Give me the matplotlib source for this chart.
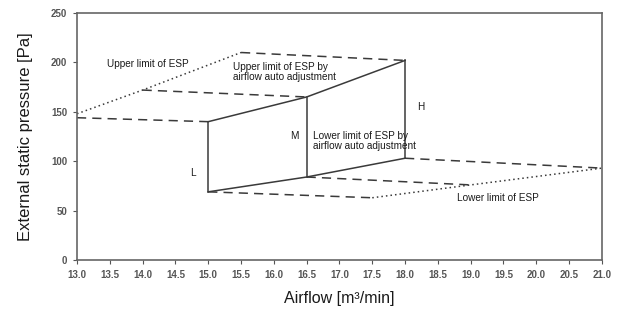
import matplotlib
matplotlib.use('Agg')
import matplotlib.pyplot as plt
import numpy as np

plt.rcParams['font.family'] = ['Liberation Sans', 'DejaVu Sans']

# operating envelope (solid): L, M, H fan steps
step_x = [15.0, 16.5, 18.0]
step_top = [140, 165, 202]
step_bottom = [69, 84, 103]

# dashed extensions of upper limit by airflow auto adjustment
upper_dash_x = [[13.0, 15.0], [14.0, 16.5], [15.5, 18.0]]
upper_dash_y = [[144, 140], [172, 165], [210, 202]]
# dotted upper limit of ESP
upper_dot_x = [13.0, 14.0, 15.5]
upper_dot_y = [148, 172, 210]

# dashed extensions of lower limit
lower_dash_x = [[15.0, 17.5], [16.5, 19.0], [18.0, 21.0]]
lower_dash_y = [[69, 63], [84, 76], [103, 93]]
# dotted lower limit of ESP
lower_dot_x = [17.5, 19.0, 21.0]
lower_dot_y = [63, 76, 93]

xticks = np.arange(13.0, 21.01, 0.5)
yticks = [0, 50, 100, 150, 200, 250]

line_c = '#3a3a3a'
grey = '#555555'
txt_c = '#1a1a1a'

fig = plt.figure(figsize=(6.19, 3.16), dpi=100)
ax = fig.add_axes([0.1244, 0.1772, 0.848, 0.7817])

# solid envelope
ax.plot(step_x, step_top, color=line_c, lw=1.1)
ax.plot(step_x, step_bottom, color=line_c, lw=1.1)
for x, t, b in zip(step_x, step_top, step_bottom):
    ax.plot([x, x], [b, t], color=line_c, lw=1.1)

for xs, ys in zip(upper_dash_x + lower_dash_x, upper_dash_y + lower_dash_y):
    ax.plot(xs, ys, color=line_c, lw=1.1, dashes=(6, 4))
ax.plot(upper_dot_x, upper_dot_y, color=line_c, lw=1.1, ls=(0, (1, 2)))
ax.plot(lower_dot_x, lower_dot_y, color=line_c, lw=1.1, ls=(0, (1, 2)))

fs = 7.2
ax.text(13.46, 198, 'Upper limit of ESP', fontsize=fs, va='center', color=txt_c)
ax.text(15.38, 190, 'Upper limit of ESP by\nairflow auto adjustment', fontsize=fs,
        va='center', color=txt_c, linespacing=1.0)
ax.text(16.25, 125, 'M', fontsize=fs, va='center', color=txt_c)
ax.text(16.6, 120, 'Lower limit of ESP by\nairflow auto adjustment', fontsize=fs,
        va='center', color=txt_c, linespacing=1.0)
ax.text(18.18, 155, 'H', fontsize=fs, va='center', color=txt_c)
ax.text(14.72, 88, 'L', fontsize=fs, va='center', color=txt_c)
ax.text(18.79, 63, 'Lower limit of ESP', fontsize=fs, va='center', color=txt_c)

ax.set_xlim(13.0, 21.0)
ax.set_ylim(0, 250)
ax.set_xticks(xticks)
ax.set_xticklabels(['%.1f' % v for v in xticks])
ax.set_yticks(yticks)
ax.tick_params(labelsize=7, colors=grey, length=3, width=0.8, pad=4)
for lbl in ax.get_xticklabels() + ax.get_yticklabels():
    lbl.set_fontweight('bold')
for s in ax.spines.values():
    s.set_color('#666666')
    s.set_linewidth(1.2)

ax.set_xlabel('Airflow [m³/min]', fontsize=11.5, color=txt_c, labelpad=8)
ax.set_ylabel('External static pressure [Pa]', fontsize=12, color=txt_c, labelpad=13)

plt.savefig('out.png', dpi=100)
plt.close()
